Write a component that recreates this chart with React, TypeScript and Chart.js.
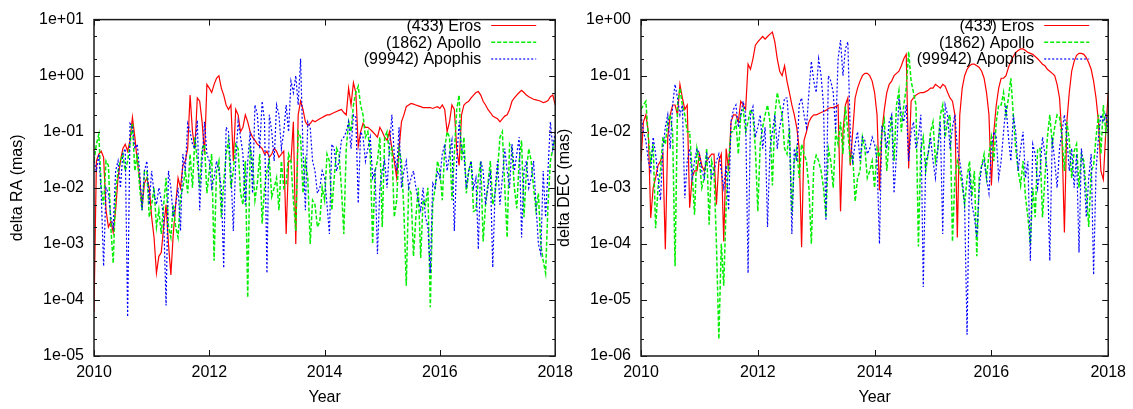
import React, { useEffect, useRef } from "react";
import { Chart, registerables } from "chart.js";

Chart.register(...registerables);

// ---- x sampling: on-month values (2010.0 .. 2018.0) and mid-month values between them ----
const START_YEAR = 2010;
const END_YEAR = 2018;
const years: number[] = Array.from({ length: 193 }, (_, i) => START_YEAR + i / 24);
const yearTicks = [2010, 2012, 2014, 2016, 2018];

const seriesNames = ["(433) Eros", "(1862) Apollo", "(99942) Apophis"];
const xTitle = "Year";
const raTitle = "delta RA (mas)";
const decTitle = "delta DEC (mas)";

// ---- delta RA (mas): on-month ----
const raEros = [
  6e-5, 0.04, 0.035, 2e-3, 1.6e-3, 0.015, 0.05, 0.045, 0.18, 0.03, 4.5e-3, 0.015,
  3e-3, 3e-4, 7e-4, 5e-3, 2.8e-4, 5e-3, 0.01, 0.03, 0.45, 0.05, 0.35, 0.04,
  0.6, 0.7, 1.0, 0.45, 0.25, 0.03, 0.2, 0.12, 0.15, 0.08, 0.06, 0.05,
  0.045, 0.04, 0.045, 0.04, 1.5e-3, 0.03, 1e-3, 0.35, 0.15, 0.14, 0.15, 0.17,
  0.19, 0.2, 0.22, 0.24, 0.22, 0.6, 0.75, 0.055, 0.14, 0.12, 0.1, 0.08,
  0.1, 0.07, 0.05, 0.015, 0.15, 0.28, 0.32, 0.3, 0.28, 0.27, 0.27, 0.27,
  0.26, 0.25, 0.15, 0.25, 0.025, 0.3, 0.35, 0.45, 0.52, 0.35, 0.25, 0.19,
  0.17, 0.17, 0.2, 0.35, 0.45, 0.55, 0.45, 0.4, 0.37, 0.35, 0.34, 0.42,
  0.3,
];
// mid-month
const raErosMid = [
  0.03, 0.045, 4e-3, 2.5e-3, 4e-3, 0.03, 0.06, 0.07, 0.08, 0.015, 0.012, 0.01,
  1.3e-3, 6e-4, 2e-3, 1e-3, 1.5e-3, 0.015, 0.025, 0.05, 0.1, 0.4, 0.15, 0.7,
  0.5, 0.9, 0.6, 0.3, 0.3, 0.25, 0.1, 0.2, 0.1, 0.07, 0.055, 0.04,
  0.035, 0.05, 0.035, 0.045, 0.03, 0.15, 0.2, 0.25, 0.13, 0.16, 0.16, 0.18,
  0.2, 0.21, 0.23, 0.25, 0.2, 0.3, 0.5, 0.1, 0.12, 0.11, 0.09, 0.12,
  0.08, 0.1, 0.03, 0.05, 0.2, 0.3, 0.31, 0.29, 0.27, 0.27, 0.26, 0.28,
  0.3, 0.1, 0.3, 0.05, 0.2, 0.33, 0.4, 0.5, 0.45, 0.3, 0.22, 0.18,
  0.15, 0.19, 0.25, 0.4, 0.5, 0.5, 0.42, 0.38, 0.36, 0.33, 0.36, 0.45,
];
const raApollo = [
  0.03, 0.09, 5e-3, 0.025, 4.5e-4, 0.02, 0.04, 0.03, 0.14, 0.04, 4e-3, 0.02,
  5e-3, 2e-3, 1.5e-3, 0.015, 1.3e-3, 2e-3, 7e-3, 0.02, 0.04, 0.08, 0.01, 0.06,
  0.02, 5e-4, 0.03, 0.012, 0.07, 0.02, 0.05, 5e-3, 1.1e-4, 0.03, 0.012, 2.3e-3,
  0.02, 7e-3, 0.015, 0.03, 0.012, 0.03, 1.7e-3, 0.08, 0.03, 1e-3, 5e-3, 2.5e-3,
  6e-3, 0.03, 0.015, 0.04, 1.5e-3, 0.15, 0.3, 0.65, 0.2, 0.1, 1e-3, 0.03,
  2e-3, 0.1, 0.05, 6e-3, 0.03, 1.8e-4, 8e-3, 3e-3, 5.6e-4, 5e-3, 7.4e-5, 0.01,
  0.02, 0.05, 0.08, 0.04, 0.45, 0.08, 0.02, 3.8e-3, 0.015, 1.1e-3, 0.012, 5e-3,
  0.02, 0.1, 1.3e-3, 0.05, 4.3e-3, 0.07, 0.02, 0.03, 4e-3, 1e-3, 3e-4, 0.03,
  0.08,
];
const raApolloMid = [
  0.06, 0.01, 0.03, 2e-3, 8e-3, 0.03, 0.02, 0.06, 0.02, 0.01, 0.02, 3e-3,
  0.01, 4e-3, 5e-3, 2e-3, 5e-3, 1.3e-3, 0.01, 8e-3, 0.01, 0.03, 0.05, 8e-3,
  0.04, 0.02, 3e-3, 0.04, 0.01, 0.06, 8e-3, 0.03, 0.05, 6e-3, 0.04, 0.01,
  0.03, 0.01, 4e-3, 0.01, 0.04, 6e-3, 0.1, 8e-3, 0.015, 6e-3, 2e-3, 0.01,
  0.04, 4e-3, 0.05, 0.01, 0.05, 0.1, 0.5, 0.3, 0.08, 0.04, 0.02, 0.08,
  0.08, 0.04, 3e-3, 0.05, 4e-3, 0.01, 6e-4, 0.01, 6e-3, 0.01, 5e-3, 0.03,
  6e-3, 0.1, 6e-3, 0.25, 0.03, 8e-3, 0.03, 4e-3, 0.03, 5e-3, 0.03, 8e-3,
  0.08, 0.01, 0.06, 0.01, 0.03, 3e-3, 0.05, 0.01, 8e-3, 5e-4, 5e-3, 0.05,
];
const raApophis = [
  0.03, 0.04, 4e-4, 8e-3, 2e-3, 0.03, 0.04, 5e-5, 0.12, 0.06, 4e-3, 0.03,
  0.02, 5e-3, 6e-3, 8e-5, 0.01, 5e-3, 1.7e-3, 0.02, 0.1, 0.05, 4e-3, 0.15,
  0.03, 0.015, 0.02, 3.7e-4, 0.1, 1.7e-3, 0.15, 0.04, 0.03, 8e-3, 0.2, 0.35,
  3e-4, 0.1, 0.3, 0.05, 0.3, 0.8, 1.0, 2.0, 4e-3, 0.12, 0.02, 0.01,
  0.015, 1.5e-3, 0.05, 0.03, 0.08, 0.15, 0.2, 5.3e-3, 0.08, 0.05, 0.015, 6.6e-4,
  0.02, 0.01, 0.2, 0.02, 0.01, 0.03, 0.015, 0.01, 4e-3, 3e-3, 3e-4, 0.01,
  0.015, 0.06, 0.04, 1.7e-3, 0.15, 0.04, 0.02, 0.01, 8e-4, 0.02, 0.01, 3.8e-4,
  0.03, 0.015, 0.02, 0.06, 0.04, 1.3e-3, 0.03, 0.015, 5e-3, 6.6e-4, 3e-3, 0.15,
  0.1,
];
const raApophisMid = [
  0.02, 8e-3, 0.01, 3e-3, 0.02, 0.01, 0.05, 0.14, 0.05, 0.02, 0.02, 5e-3,
  8e-3, 0.01, 3e-3, 0.02, 3e-3, 0.01, 0.04, 0.14, 0.06, 0.16, 0.03, 0.04,
  0.01, 0.03, 0.01, 0.12, 0.02, 0.03, 0.08, 5e-3, 0.1, 0.3, 0.05, 0.15,
  0.2, 0.03, 0.2, 0.1, 0.1, 0.5, 0.3, 0.05, 0.15, 0.03, 8e-3, 0.02,
  5e-3, 0.06, 0.02, 0.07, 0.1, 0.05, 0.18, 0.1, 0.03, 0.08, 0.02, 0.01,
  0.03, 0.05, 0.04, 0.12, 0.02, 0.01, 0.02, 6e-3, 0.01, 2e-3, 0.012, 0.02,
  0.04, 0.02, 0.07, 0.03, 0.05, 0.01, 0.03, 0.015, 0.03, 5e-3, 0.02, 0.01,
  5e-3, 0.05, 0.01, 0.02, 0.08, 0.02, 0.01, 0.03, 1e-3, 0.02, 0.02, 0.05,
];

// ---- delta DEC (mas): on-month ----
const decEros = [
  3e-3, 0.02, 2.9e-4, 1.5e-3, 3e-3, 8e-5, 0.02, 0.03, 0.07, 0.025, 4.4e-4, 2e-3,
  4e-3, 2e-3, 3.5e-3, 4e-3, 3e-3, 1.1e-4, 2e-3, 0.02, 0.015, 0.03, 0.16, 0.2,
  0.4, 0.5, 0.5, 0.6, 0.2, 0.1, 0.08, 0.03, 0.012, 8.7e-5, 0.01, 0.018,
  0.02, 0.022, 0.024, 0.027, 0.028, 3.8e-4, 0.03, 2.5e-3, 0.04, 0.08, 0.11, 0.1,
  0.05, 9e-4, 0.025, 0.07, 0.1, 0.12, 0.2, 2.2e-3, 0.04, 0.048, 0.05, 0.055,
  0.06, 0.065, 0.07, 0.05, 0.035, 1.3e-4, 0.06, 0.13, 0.16, 0.15, 0.12, 0.05,
  1.1e-3, 0.03, 0.09, 0.1, 0.18, 0.26, 0.3, 0.28, 0.25, 0.22, 0.18, 0.15,
  0.12, 0.1, 0.04, 1.6e-4, 0.05, 0.18, 0.25, 0.24, 0.17, 0.08, 0.015, 1.4e-3,
  0.05,
];
const decErosMid = [
  0.015, 0.01, 1e-3, 2.5e-3, 4e-3, 8e-3, 0.03, 0.02, 0.04, 0.03, 1.5e-3, 2e-3,
  2.5e-3, 3e-3, 4e-3, 5e-4, 4e-3, 5e-3, 0.015, 0.02, 0.035, 0.025, 0.13, 0.35,
  0.45, 0.45, 0.55, 0.4, 0.12, 0.15, 0.05, 0.02, 5e-3, 7e-3, 0.015, 0.02,
  0.021, 0.023, 0.026, 0.027, 0.03, 0.01, 0.04, 0.01, 0.06, 0.1, 0.11, 0.08,
  0.02, 0.01, 0.05, 0.08, 0.11, 0.15, 0.24, 0.035, 0.045, 0.05, 0.052, 0.06,
  0.07, 0.06, 0.065, 0.04, 0.02, 0.02, 0.1, 0.15, 0.16, 0.14, 0.09, 0.02,
  0.01, 0.06, 0.09, 0.14, 0.22, 0.28, 0.3, 0.26, 0.24, 0.2, 0.16, 0.13,
  0.11, 0.07, 8e-3, 0.015, 0.12, 0.23, 0.25, 0.21, 0.13, 0.04, 2e-3, 0.01,
];
const decApollo = [
  0.025, 0.035, 3e-3, 1.9e-4, 2e-3, 6e-3, 0.02, 4e-5, 0.06, 0.02, 0.01, 3.3e-4,
  3e-3, 1.5e-3, 2.2e-4, 2e-3, 2e-6, 1.8e-5, 3e-3, 0.01, 4e-3, 0.025, 0.015, 0.02,
  3.8e-4, 0.012, 0.03, 1.1e-3, 0.05, 0.02, 4e-3, 3.3e-4, 5e-3, 6e-3, 3e-3, 1e-4,
  3.8e-3, 2e-3, 3e-4, 3e-3, 0.01, 0.015, 0.028, 3e-3, 5.7e-4, 2e-3, 5e-3, 2e-3,
  1e-3, 3.5e-3, 0.016, 7e-3, 3e-3, 0.054, 0.03, 0.27, 0.05, 9e-5, 8e-3, 4e-3,
  0.015, 5e-3, 0.03, 0.016, 1.1e-4, 3e-3, 1.1e-3, 1.5e-3, 7e-4, 6e-5, 2.5e-3, 1.5e-3,
  8e-3, 0.015, 0.03, 0.02, 0.09, 5e-3, 1.1e-3, 7e-4, 1e-4, 3e-4, 5e-3, 1.5e-3,
  0.02, 0.012, 0.018, 2e-3, 7e-3, 4.5e-3, 1e-3, 3e-3, 2e-4, 2.5e-3, 0.02, 0.03,
  0.02,
];
const decApolloMid = [
  0.03, 8e-3, 6e-3, 1e-3, 8e-3, 0.015, 0.01, 0.03, 0.03, 0.01, 2e-3, 5e-3,
  1e-3, 5e-3, 3e-3, 1e-4, 1e-4, 5e-4, 0.01, 0.015, 0.02, 0.01, 0.025, 5e-3,
  6e-3, 0.02, 0.015, 0.02, 0.03, 5e-3, 0.012, 3e-3, 1.5e-3, 4e-3, 1e-3, 2.5e-3,
  3e-3, 1e-3, 5e-3, 1e-3, 6e-3, 4e-3, 0.01, 4e-3, 1.5e-3, 8e-3, 1.5e-3, 3e-3,
  5e-3, 0.01, 2e-3, 0.02, 0.03, 0.01, 0.06, 0.08, 0.03, 5e-3, 2e-3, 0.01,
  3e-3, 0.02, 8e-3, 0.02, 1.5e-3, 2e-3, 5e-4, 3e-3, 2e-3, 1.5e-3, 4e-3, 4e-3,
  3e-3, 0.03, 0.05, 0.04, 0.02, 2e-3, 3e-3, 3e-4, 1e-3, 5e-3, 3e-4, 8e-3,
  6e-3, 0.02, 8e-3, 0.015, 1.5e-3, 6e-3, 4e-3, 8e-4, 2e-3, 8e-3, 4e-3, 0.01,
];
const decApophis = [
  0.02, 7e-3, 2e-3, 4e-3, 6e-4, 0.012, 5e-3, 0.07, 0.02, 6.5e-4, 5e-3, 3e-3,
  4e-3, 1.5e-3, 3e-3, 2e-3, 4e-3, 1e-3, 4e-4, 0.025, 0.012, 0.035, 3e-5, 0.028,
  0.012, 5e-3, 2e-4, 0.01, 5e-3, 0.02, 0.04, 1.5e-4, 3e-3, 0.04, 0.012, 0.18,
  0.05, 0.1, 2.6e-4, 0.08, 0.01, 0.43, 0.3, 0.01, 6e-3, 3e-3, 7e-3, 5e-3,
  6e-3, 1e-4, 0.01, 0.015, 8e-4, 0.04, 0.015, 3e-3, 0.015, 8e-3, 1.7e-5, 4e-3,
  3e-3, 5e-3, 1.5e-4, 0.02, 0.012, 5e-3, 1.5e-3, 2.4e-6, 5e-4, 1.3e-4, 2.5e-3, 1.5e-3,
  5e-3, 8e-3, 3e-3, 0.03, 3e-3, 0.01, 5e-3, 1.5e-3, 5e-5, 4e-3, 2e-3, 4e-3,
  5e-5, 3e-3, 5e-3, 0.02, 2e-3, 1e-3, 7e-5, 2e-3, 1.5e-3, 2.8e-5, 8e-3, 0.015,
  0.01,
];
const decApophisMid = [
  0.01, 3e-3, 8e-3, 1.5e-3, 5e-3, 0.02, 0.03, 0.04, 0.03, 3e-3, 1.5e-3, 5e-3,
  2e-3, 4e-3, 1.5e-3, 3e-3, 2e-3, 2.5e-3, 0.015, 0.03, 0.02, 0.02, 0.02, 8e-3,
  0.02, 0.012, 5e-3, 0.02, 0.012, 0.04, 0.01, 5e-3, 0.03, 0.02, 0.05, 0.08,
  0.2, 0.03, 0.1, 0.05, 0.2, 0.1, 0.4, 3e-3, 0.01, 8e-3, 4e-3, 8e-3,
  3e-3, 0.012, 5e-3, 0.02, 4e-3, 0.02, 0.03, 0.01, 5e-3, 0.02, 3e-3, 8e-3,
  1.5e-3, 0.015, 0.03, 5e-3, 0.02, 3e-3, 5e-4, 2e-3, 3e-4, 1e-3, 3e-3, 8e-4,
  0.01, 1.5e-3, 0.01, 8e-3, 0.02, 2e-3, 0.01, 3e-3, 6e-3, 1e-3, 8e-3, 2e-3,
  8e-3, 1e-3, 0.01, 8e-3, 5e-3, 4e-3, 5e-3, 3e-4, 4e-3, 2e-3, 0.02, 0.02,
];

// on-month and mid-month readings merged in time order
function interleave(onMonth: number[], midMonth: number[]): number[] {
  const out: number[] = [];
  onMonth.forEach((v, i) => {
    out.push(v);
    if (i < midMonth.length) out.push(midMonth[i]);
  });
  return out;
}

const FONT = "'Liberation Sans', Arial, Helvetica, sans-serif";
const FONT_SIZE = 16;
const TEXT_COLOR = "#000";

function sciLabel(v: number): string {
  const l = Math.log10(v);
  const e = Math.round(l);
  if (Math.abs(l - e) > 1e-6) return "";
  const a = Math.abs(e);
  return "1e" + (e < 0 ? "-" : "+") + (a < 10 ? "0" + a : String(a));
}

function logTicks(min: number, max: number) {
  const out: { value: number }[] = [];
  const e0 = Math.round(Math.log10(min));
  const e1 = Math.round(Math.log10(max));
  for (let e = e0; e <= e1; e++) {
    const d = Math.pow(10, e);
    out.push({ value: d });
    if (e < e1) {
      out.push({ value: d * 2 });
      out.push({ value: d * 5 });
    }
  }
  return out;
}

type PanelCfg = {
  yTitle: string;
  yMin: number;
  yMax: number;
  values: number[][];
  yWidth: number;
  padRight: number;
  yTitlePad: number;
};

const lineStyles = [
  { color: "#ff0000", dash: [] as number[], width: 1.2, order: 3 },
  { color: "#00ee00", dash: [4, 2], width: 1.5, order: 2 },
  { color: "#0000ff", dash: [2, 2], width: 1.2, order: 1 },
];

function makeChart(canvas: HTMLCanvasElement, cfg: PanelCfg) {
  const datasets = cfg.values.map((vals, k) => ({
    label: seriesNames[k],
    data: years.map((x, i) => ({ x, y: vals[i] })),
    borderColor: lineStyles[k].color,
    backgroundColor: lineStyles[k].color,
    borderWidth: lineStyles[k].width,
    borderDash: lineStyles[k].dash,
    pointRadius: 0,
    pointHoverRadius: 0,
    fill: false,
    tension: 0,
    order: lineStyles[k].order,
  }));

  const gnuplotPlugin = {
    id: "gnuplotFrame",
    afterDraw(chart: any) {
      const { ctx, chartArea: a, scales } = chart;
      const xs = scales.x;
      const ys = scales.y;
      ctx.save();
      ctx.strokeStyle = "#111";
      ctx.lineWidth = 1;
      ctx.setLineDash([]);
      ctx.beginPath();
      for (const t of xs.ticks) {
        const px = Math.round(xs.getPixelForValue(t.value)) + 0.5;
        ctx.moveTo(px, a.bottom);
        ctx.lineTo(px, a.bottom - 6);
        ctx.moveTo(px, a.top);
        ctx.lineTo(px, a.top + 6);
      }
      for (const t of ys.ticks) {
        const py = Math.round(ys.getPixelForValue(t.value)) + 0.5;
        const len = sciLabel(t.value) ? 6 : 3;
        ctx.moveTo(a.left, py);
        ctx.lineTo(a.left + len, py);
        ctx.moveTo(a.right, py);
        ctx.lineTo(a.right - len, py);
      }
      ctx.stroke();
      ctx.lineWidth = 1.5;
      ctx.strokeStyle = "#1a1a1a";
      ctx.strokeRect(a.left, a.top, a.right - a.left, a.bottom - a.top);

      // gnuplot-style key: right aligned text, then a line sample
      const rows = [25.5, 42.3, 59];
      ctx.font = `${FONT_SIZE}px ${FONT}`;
      ctx.textAlign = "right";
      ctx.textBaseline = "middle";
      ctx.fillStyle = TEXT_COLOR;
      seriesNames.forEach((name, k) => {
        const y = rows[k];
        ctx.fillText(name, a.right - 74, y + 1);
        ctx.beginPath();
        ctx.strokeStyle = lineStyles[k].color;
        ctx.lineWidth = lineStyles[k].width;
        ctx.setLineDash(lineStyles[k].dash);
        ctx.moveTo(a.right - 64, y);
        ctx.lineTo(a.right - 19, y);
        ctx.stroke();
      });
      ctx.restore();
    },
  };

  return new Chart(canvas, {
    type: "line",
    data: { datasets },
    plugins: [gnuplotPlugin],
    options: {
      animation: false,
      responsive: false,
      devicePixelRatio: 1,
      events: [],
      layout: { padding: { top: 12, right: cfg.padRight, bottom: 0, left: 0 } },
      plugins: { legend: { display: false }, tooltip: { enabled: false } },
      scales: {
        x: {
          type: "linear",
          min: START_YEAR,
          max: END_YEAR,
          offset: false,
          afterBuildTicks: (s: any) => {
            s.ticks = yearTicks.map((v) => ({ value: v }));
          },
          afterFit: (s: any) => {
            s.height = 53;
          },
          grid: { display: false, drawTicks: false },
          border: { display: false },
          ticks: {
            autoSkip: false,
            maxRotation: 0,
            padding: 7,
            color: TEXT_COLOR,
            font: { family: FONT, size: FONT_SIZE },
            callback: (v: any) => String(v),
          },
          title: {
            display: true,
            text: xTitle,
            color: TEXT_COLOR,
            font: { family: FONT, size: FONT_SIZE },
            padding: { top: 0, bottom: 2 },
          },
        },
        y: {
          type: "logarithmic",
          min: cfg.yMin,
          max: cfg.yMax,
          afterBuildTicks: (s: any) => {
            s.ticks = logTicks(cfg.yMin, cfg.yMax);
          },
          afterFit: (s: any) => {
            s.width = cfg.yWidth;
          },
          grid: { display: false, drawTicks: false },
          border: { display: false },
          ticks: {
            autoSkip: false,
            padding: 10,
            color: TEXT_COLOR,
            font: { family: FONT, size: FONT_SIZE },
            callback: (v: any) => sciLabel(Number(v)),
          },
          title: {
            display: true,
            text: cfg.yTitle,
            color: TEXT_COLOR,
            font: { family: FONT, size: FONT_SIZE },
            padding: { top: cfg.yTitlePad, bottom: 0 },
          },
        },
      },
    } as any,
  });
}

function Panel(props: { left: number; width: number; cfg: PanelCfg }) {
  const ref = useRef<HTMLCanvasElement | null>(null);
  useEffect(() => {
    if (!ref.current) return;
    const chart = makeChart(ref.current, props.cfg);
    return () => chart.destroy();
  }, []);
  return (
    <canvas
      ref={ref}
      width={props.width}
      height={409}
      style={{
        position: "absolute",
        left: props.left,
        top: 0,
        width: props.width,
        height: 409,
      }}
    />
  );
}

const raPanel: PanelCfg = {
  yTitle: raTitle,
  yMin: 1e-5,
  yMax: 10,
  values: [
    interleave(raEros, raErosMid),
    interleave(raApollo, raApolloMid),
    interleave(raApophis, raApophisMid),
  ],
  yWidth: 94,
  padRight: 18,
  yTitlePad: 8,
};

const decPanel: PanelCfg = {
  yTitle: decTitle,
  yMin: 1e-6,
  yMax: 1,
  values: [
    interleave(decEros, decErosMid),
    interleave(decApollo, decApolloMid),
    interleave(decApophis, decApophisMid),
  ],
  yWidth: 91,
  padRight: 22,
  yTitlePad: 5,
};

export default function App() {
  return (
    <div
      style={{
        position: "fixed",
        left: 0,
        top: 0,
        width: 1133,
        height: 409,
        background: "#fff",
        overflow: "hidden",
      }}
    >
      <Panel left={0} width={580} cfg={raPanel} />
      <Panel left={550} width={583} cfg={decPanel} />
    </div>
  );
}
